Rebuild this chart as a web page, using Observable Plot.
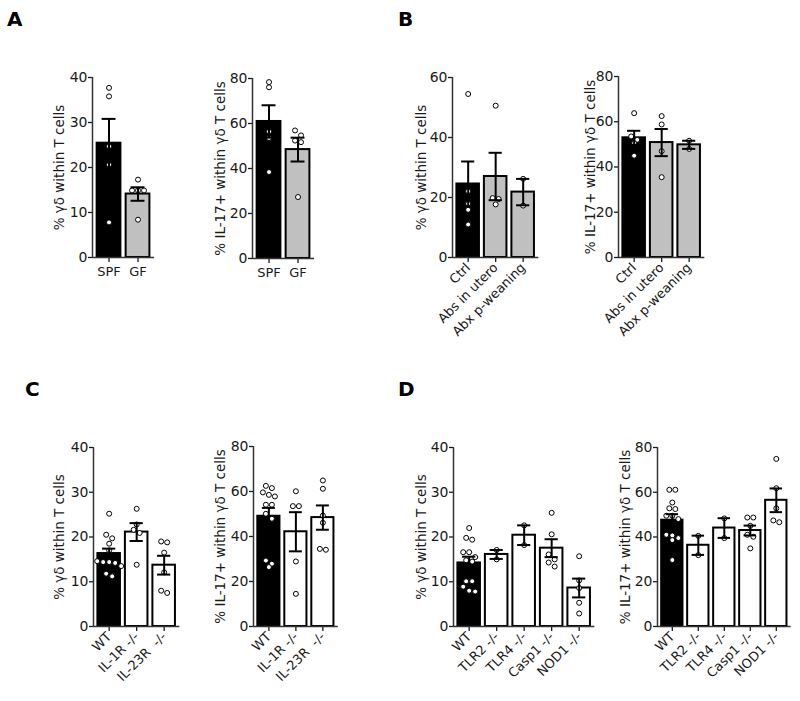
<!DOCTYPE html>
<html><head><meta charset="utf-8">
<script src="https://cdn.jsdelivr.net/npm/d3@7"></script>
<script src="https://cdn.jsdelivr.net/npm/@observablehq/plot@0.6"></script>
<style>
body{margin:0;background:#fff;}
#root{position:relative;width:800px;height:701px;overflow:hidden;font-family:"DejaVu Sans",sans-serif;background:#fff;}
.letter{position:absolute;font-weight:bold;font-size:20px;line-height:1;color:#000;font-family:"DejaVu Sans",sans-serif;}
</style></head><body><div id="root"></div>
<script>
// ---- data ----
const labelGD = "% γδ within T cells";
const labelIL17 = "% IL-17+ within γδ T cells";
const ticks40 = [0, 10, 20, 30, 40];
const ticks60 = [0, 20, 40, 60];
const ticks80 = [0, 20, 40, 60, 80];

const catsA = ["SPF", "GF"];
const a1Means = [25.4, 14.1];
const a1Sems = [5.4, 1.5];
const a1Points = [[37.7, 35.8, 24.7, 20.6, 7.8], [17.3, 14.9, 14.9, 14.9, 8.4]];
const a2Means = [60.9, 48.4];
const a2Sems = [7.2, 5.3];
const a2Points = [[78.4, 76.1, 56.4, 53.6, 38.4], [56.9, 54.7, 52.4, 51.7, 27.3]];

const catsB = ["Ctrl", "Abs in utero", "Abx p-weaning"];
const b1Means = [24.5, 27.0, 21.8];
const b1Sems = [7.5, 7.9, 4.4];
const b1Points = [[54.5, 22.1, 17.9, 15.9, 11.0], [50.6, 19.8, 19.5, 17.7], [26.2, 17.3]];
const b2Means = [52.9, 50.8, 49.8];
const b2Sems = [3.1, 6.0, 1.8];
const b2Points = [[63.8, 53.5, 52.0, 50.5, 45.0], [62.5, 58.8, 47.0, 35.5], [51.6, 48.0]];

const catsC = ["WT", "IL-1R -/-", "IL-23R  -/-"];
const c1Means = [16.3, 21.1, 13.7];
const c1Sems = [1.1, 2.0, 2.1];
const c1Points = [[25.2, 20.5, 19.7, 18.5, 17.0, 14.6, 14.4, 14.4, 14.2, 13.5, 11.8, 11.2],
                  [26.3, 22.8, 21.6, 20.9, 13.8],
                  [19.0, 18.8, 16.5, 12.1, 8.0, 7.5]];
const c2Means = [49.0, 42.1, 48.4];
const c2Sems = [3.7, 8.7, 5.4];
const c2Points = [[62.5, 61.5, 59.6, 58.5, 57.8, 54.1, 54.1, 50.1, 47.9, 29.3, 27.9, 26.4],
                  [60.1, 53.5, 53.5, 28.9, 14.5],
                  [64.9, 61.2, 49.3, 46.1, 34.5, 34.1]];

const catsD = ["WT", "TLR2 -/-", "TLR4 -/-", "Casp1 -/-", "NOD1 -/-"];
const d1Means = [14.2, 16.1, 20.4, 17.5, 8.6];
const d1Sems = [1.4, 1.0, 2.2, 2.0, 2.1];
const d1Points = [[22.0, 19.8, 19.4, 16.6, 16.6, 15.5, 14.8, 14.5, 10.1, 10.1, 8.9, 8.0, 7.8],
                  [17.1, 15.0], [22.6, 18.2], [25.4, 20.6, 16.1, 15.0, 14.3, 13.4],
                  [15.7, 10.3, 8.6, 5.3, 2.9]];
const d2Means = [47.5, 36.3, 44.0, 42.9, 56.4];
const d2Sems = [2.7, 4.3, 4.4, 2.2, 5.3];
const d2Points = [[61.1, 61.1, 55.4, 52.8, 52.5, 49.5, 49.5, 48.0, 41.0, 40.7, 39.5, 38.6, 29.7],
                  [40.5, 31.9], [48.3, 39.5], [48.7, 48.7, 45.0, 41.0, 40.1, 34.9],
                  [74.9, 61.8, 52.8, 47.4, 46.6]];

// ---- layout / style ----
const BLACK = "#000", GRAY = "#c0c0c0", WHITE = "#fff";
const panels = [
  {left: 92, top: 77, bottom: 257, step: 29, ymax: 40, yticks: ticks40, cats: catsA, means: a1Means, sems: a1Sems, pts: a1Points, label: labelGD, fills: [BLACK, GRAY], rotate: 0, labelOffset: 33},
  {left: 252, top: 78, bottom: 258, step: 29, ymax: 80, yticks: ticks80, cats: catsA, means: a2Means, sems: a2Sems, pts: a2Points, label: labelIL17, fills: [BLACK, GRAY], rotate: 0, labelOffset: 32},
  {left: 452, top: 77, bottom: 257, step: 27.5, ymax: 60, yticks: ticks60, cats: catsB, means: b1Means, sems: b1Sems, pts: b1Points, label: labelGD, fills: [BLACK, GRAY, GRAY], rotate: -45, labelOffset: 31},
  {left: 618, top: 76, bottom: 257, step: 27.5, ymax: 80, yticks: ticks80, cats: catsB, means: b2Means, sems: b2Sems, pts: b2Points, label: labelIL17, fills: [BLACK, GRAY, GRAY], rotate: -45, labelOffset: 28},
  {left: 93, top: 447, bottom: 626, step: 27.5, ymax: 40, yticks: ticks40, cats: catsC, means: c1Means, sems: c1Sems, pts: c1Points, label: labelGD, fills: [BLACK, WHITE, WHITE], rotate: -45, labelOffset: 34},
  {left: 253, top: 446, bottom: 626, step: 27, ymax: 80, yticks: ticks80, cats: catsC, means: c2Means, sems: c2Sems, pts: c2Points, label: labelIL17, fills: [BLACK, WHITE, WHITE], rotate: -45, labelOffset: 33},
  {left: 453, top: 447, bottom: 626, step: 27.5, ymax: 40, yticks: ticks40, cats: catsD, means: d1Means, sems: d1Sems, pts: d1Points, label: labelGD, fills: [BLACK, WHITE, WHITE, WHITE, WHITE], rotate: -45, labelOffset: 32},
  {left: 657, top: 447, bottom: 626, step: 26, ymax: 80, yticks: ticks80, cats: catsD, means: d2Means, sems: d2Sems, pts: d2Points, label: labelIL17, fills: [BLACK, WHITE, WHITE, WHITE, WHITE], rotate: -45, labelOffset: 32}
];
const letters = [["A", 7, 9], ["B", 398, 9], ["C", 25, 379], ["D", 398, 379]];

const root = document.getElementById("root");
const DOT_GAP = 6;
const FONT = "'DejaVu Sans', sans-serif";

function draw(p) {
  const n = p.cats.length;
  const idx = d3.range(n);
  const xa = -0.57, xb = n - 1 + 0.57;
  const span = (xb - xa) * p.step;
  const ML = 62, MR = 6, MT = 10, MB = 100;
  const H = p.bottom - p.top;
  const ppu = H / p.ymax;
  const rows = idx.map(i => ({i, mean: p.means[i], lo: p.means[i] - p.sems[i], hi: p.means[i] + p.sems[i], fill: p.fills[i]}));
  const dots = [];
  idx.forEach(i => {
    const vals = [...p.pts[i]].sort((a, b) => b - a);
    let row = [];
    const flush = () => {
      row.forEach((v, k) => dots.push({x: i + (k - (row.length - 1) / 2) * DOT_GAP / p.step, v}));
      row = [];
    };
    vals.forEach(v => { if (row.length && (row[0] - v) * ppu > 5) flush(); row.push(v); });
    flush();
  });
  const svg = Plot.plot({
    width: ML + span + MR,
    height: MT + H + MB,
    marginLeft: ML, marginRight: MR, marginTop: MT, marginBottom: MB,
    x: {domain: [xa, xb], axis: null},
    y: {domain: [0, p.ymax], axis: null},
    style: {fontFamily: FONT, fontSize: "13px", color: "#1a1a1a", background: "transparent", overflow: "visible"},
    marks: [
      Plot.rect(rows, {x1: d => d.i - 0.41, x2: d => d.i + 0.41, y1: 0, y2: "mean", fill: "fill", stroke: "#000", strokeWidth: 2}),
      Plot.dot(dots, {x: "x", y: "v", r: 2.5, fill: "#fff", stroke: "#000", strokeWidth: 1}),
      Plot.ruleX(rows, {x: "i", y1: "lo", y2: "hi", stroke: "#000", strokeWidth: 2}),
      Plot.ruleY(rows, {y: "hi", x1: d => d.i - 0.24, x2: d => d.i + 0.24, stroke: "#000", strokeWidth: 2}),
      Plot.ruleY(rows, {y: "lo", x1: d => d.i - 0.24, x2: d => d.i + 0.24, stroke: "#000", strokeWidth: 2}),
      Plot.axisY({ticks: p.yticks, tickSize: 4, tickPadding: 1, label: null, fontSize: 14, strokeWidth: 1.3}),
      Plot.axisX({ticks: idx, tickFormat: i => p.cats[i], tickRotate: p.rotate, tickSize: 5, tickPadding: p.rotate ? 3 : 4, label: null, fontSize: 13, strokeWidth: 1.3}),
      Plot.ruleX([xa], {y1: 0, y2: p.ymax, stroke: "#333", strokeWidth: 1.5}),
      Plot.ruleY([0], {x1: xa, x2: xb, stroke: "#333", strokeWidth: 1.5}),
      Plot.text([p.label], {frameAnchor: "left", textAnchor: "middle", lineAnchor: "middle", rotate: -90, dx: -p.labelOffset, fontSize: 13.5, fill: "#1a1a1a"})
    ]
  });
  svg.style.position = "absolute";
  svg.style.left = (p.left - ML) + "px";
  svg.style.top = (p.top - MT) + "px";
  root.appendChild(svg);
}
panels.forEach(draw);
letters.forEach(([t, x, y]) => {
  const el = document.createElement("div");
  el.className = "letter";
  el.textContent = t;
  el.style.left = x + "px";
  el.style.top = y + "px";
  root.appendChild(el);
});
</script></body></html>
